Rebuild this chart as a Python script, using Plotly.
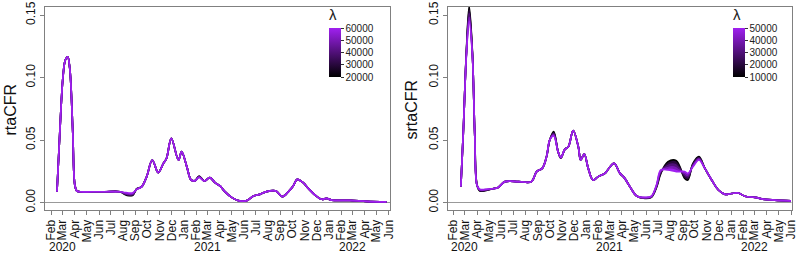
import plotly.graph_objects as go

# ---------------- data: rtaCFR (left panel) ----------------
rta_lambdas = [20000, 30000, 40000, 50000, 60000]
rta_dates = ["2020-02-16", "2020-02-23", "2020-03-02", "2020-03-08", "2020-03-14", "2020-03-19",
             "2020-03-22", "2020-03-27", "2020-04-01", "2020-04-06", "2020-04-14", "2020-05-15",
             "2020-06-15", "2020-07-24", "2020-08-05", "2020-08-15", "2020-08-25", "2020-09-04",
             "2020-09-16", "2020-09-29", "2020-10-13", "2020-10-28", "2020-11-10", "2020-11-18",
             "2020-11-30", "2020-12-18", "2020-12-26", "2021-01-08", "2021-01-19", "2021-01-29",
             "2021-02-08", "2021-02-21", "2021-03-07", "2021-03-20", "2021-04-02", "2021-04-14",
             "2021-05-01", "2021-05-18", "2021-06-08", "2021-06-25", "2021-07-11", "2021-07-28",
             "2021-08-14", "2021-08-22", "2021-09-06", "2021-09-21", "2021-10-03", "2021-10-13",
             "2021-10-28", "2021-11-10", "2021-11-27", "2021-12-14", "2021-12-26", "2022-01-08",
             "2022-02-23", "2022-04-06", "2022-05-26"]
rta_lam60000 = [0.0086, 0.055, 0.100, 0.114, 0.1166, 0.108,
                0.095, 0.055, 0.014, 0.0092, 0.0086, 0.0086,
                0.0086, 0.0086, 0.0080, 0.0076, 0.0077, 0.0105,
                0.0125, 0.0207, 0.0340, 0.0239, 0.0313, 0.0353,
                0.0513, 0.0340, 0.0407, 0.0287, 0.0180, 0.0175,
                0.0201, 0.0172, 0.0199, 0.0159, 0.0132, 0.0087,
                0.0041, 0.0015, 0.0015, 0.0052, 0.0065, 0.0087,
                0.0095, 0.0090, 0.0047, 0.0087, 0.0132, 0.0185,
                0.0159, 0.0113, 0.0060, 0.0026, 0.0033, 0.0019,
                0.0017, 0.0009, 0.0005]
rta_diff_dates = ["2020-08-05", "2020-08-15", "2020-08-25", "2020-09-04", "2021-02-08"]
rta_lam20000_diff = [0.0065, 0.0055, 0.0058, 0.0110, 0.0212]
rta_lam30000_diff = [0.0068, 0.0058, 0.0061, 0.0109, 0.0209]
rta_lam40000_diff = [0.0071, 0.0062, 0.0065, 0.0108, 0.0206]
rta_lam50000_diff = [0.0075, 0.0068, 0.0070, 0.0107, 0.0203]

# ---------------- data: srtaCFR (right panel) ----------------
srta_lambdas = [10000, 20000, 30000, 40000, 50000]
srta_dates = ["2020-02-20", "2020-02-26", "2020-03-05", "2020-03-12", "2020-03-20", "2020-03-26",
              "2020-04-01", "2020-04-08", "2020-04-22", "2020-05-10", "2020-05-24", "2020-06-10",
              "2020-07-15", "2020-08-16", "2020-08-29", "2020-09-12", "2020-09-23", "2020-10-01",
              "2020-10-11", "2020-10-22", "2020-10-29", "2020-11-08", "2020-11-17", "2020-11-29",
              "2020-12-12", "2020-12-18", "2020-12-27", "2021-01-06", "2021-01-18", "2021-01-31",
              "2021-02-17", "2021-02-24", "2021-03-12", "2021-03-27", "2021-04-08", "2021-04-21",
              "2021-05-08", "2021-05-29", "2021-06-14", "2021-06-27", "2021-07-08", "2021-07-26",
              "2021-08-16", "2021-09-06", "2021-09-14", "2021-09-27", "2021-10-12", "2021-10-27",
              "2021-11-13", "2021-11-30", "2021-12-17", "2022-01-02", "2022-01-19", "2022-02-05",
              "2022-03-02", "2022-03-27", "2022-04-21", "2022-06-01"]
srta_lam50000 = [0.0127, 0.055, 0.118, 0.145, 0.118, 0.055,
                 0.0135, 0.0105, 0.0105, 0.0110, 0.0120, 0.0167,
                 0.0167, 0.0167, 0.0247, 0.0273, 0.0367, 0.0500,
                 0.0532, 0.0407, 0.0361, 0.0425, 0.0447, 0.0575,
                 0.0447, 0.0340, 0.0388, 0.0273, 0.0180, 0.0207,
                 0.0233, 0.0260, 0.0313, 0.0233, 0.0193, 0.0127,
                 0.0052, 0.0041, 0.0050, 0.0140, 0.0260, 0.0260,
                 0.0247, 0.0247, 0.0233, 0.0287, 0.0340, 0.0273,
                 0.0180, 0.0100, 0.0065, 0.0072, 0.0076, 0.0050,
                 0.0041, 0.0025, 0.0019, 0.0013]
srta_diff_dates = ["2020-03-05", "2020-03-12", "2020-03-20", "2020-04-08", "2020-04-22",
                   "2020-10-11", "2020-10-29", "2021-05-29", "2021-06-14", "2021-06-27",
                   "2021-07-08", "2021-07-26", "2021-08-16", "2021-09-06", "2021-09-14",
                   "2021-09-27", "2021-10-12"]
srta_lam10000_diff = [0.1210, 0.1570, 0.1210, 0.0092, 0.0095, 0.0567, 0.0355, 0.0033, 0.0042,
                      0.0120, 0.0233, 0.0327, 0.0335, 0.0193, 0.0180, 0.0313, 0.0367]
srta_lam20000_diff = [0.1203, 0.1540, 0.1203, 0.0095, 0.0098, 0.0558, 0.0356, 0.0035, 0.0044,
                      0.0125, 0.0240, 0.0310, 0.0313, 0.0206, 0.0193, 0.0307, 0.0360]
srta_lam30000_diff = [0.1195, 0.1513, 0.1195, 0.0098, 0.0100, 0.0550, 0.0358, 0.0037, 0.0046,
                      0.0130, 0.0247, 0.0293, 0.0291, 0.0220, 0.0207, 0.0300, 0.0353]
srta_lam40000_diff = [0.1188, 0.1482, 0.1188, 0.0102, 0.0103, 0.0541, 0.0359, 0.0039, 0.0048,
                      0.0135, 0.0253, 0.0277, 0.0269, 0.0233, 0.0220, 0.0293, 0.0347]

# ---------------- axis labels ----------------
month_tick_dates = ["2020-02-01", "2020-03-01", "2020-04-01", "2020-05-01", "2020-06-01", "2020-07-01",
                    "2020-08-01", "2020-09-01", "2020-10-01", "2020-11-01", "2020-12-01", "2021-01-01",
                    "2021-02-01", "2021-03-01", "2021-04-01", "2021-05-01", "2021-06-01", "2021-07-01",
                    "2021-08-01", "2021-09-01", "2021-10-01", "2021-11-01", "2021-12-01", "2022-01-01",
                    "2022-02-01", "2022-03-01", "2022-04-01", "2022-05-01", "2022-06-01"]
month_tick_labels = ["Feb", "Mar", "Apr", "May", "Jun", "Jul", "Aug", "Sep", "Oct", "Nov", "Dec", "Jan",
                     "Feb", "Mar", "Apr", "May", "Jun", "Jul", "Aug", "Sep", "Oct", "Nov", "Dec", "Jan",
                     "Feb", "Mar", "Apr", "May", "Jun"]
year_labels = ["2020", "2021", "2022"]
year_positions = ["2020-03-01", "2021-03-01", "2022-03-01"]
y_tick_vals = [0.0, 0.05, 0.10, 0.15]
y_tick_labels = ["0.00", "0.05", "0.10", "0.15"]


def build_curve(base_dates, base_vals, diff_dates, diff_vals):
    lookup = dict(zip(diff_dates, diff_vals))
    return [lookup.get(d, v) for d, v in zip(base_dates, base_vals)]


def lam_color(t):
    # black -> purple (#A020F0)
    r = int(round(0xA0 * t)); g = int(round(0x20 * t)); b = int(round(0xF0 * t))
    return f"rgb({r},{g},{b})"


FONT = "Liberation Sans, Arial, sans-serif"
AX = "#808080"
fig = go.Figure()

panels = [
    dict(xa="x", ya="y", lambdas=rta_lambdas, dates=rta_dates,
         curves=[build_curve(rta_dates, rta_lam60000, rta_diff_dates, d) for d in
                 [rta_lam20000_diff, rta_lam30000_diff, rta_lam40000_diff, rta_lam50000_diff]] + [rta_lam60000]),
    dict(xa="x2", ya="y2", lambdas=srta_lambdas, dates=srta_dates,
         curves=[build_curve(srta_dates, srta_lam50000, srta_diff_dates, d) for d in
                 [srta_lam10000_diff, srta_lam20000_diff, srta_lam30000_diff, srta_lam40000_diff]] + [srta_lam50000]),
]

for p in panels:
    n = len(p["lambdas"])
    for i, (lam, vals) in enumerate(zip(p["lambdas"], p["curves"])):
        t = i / (n - 1)
        c = lam_color(t)
        fig.add_trace(go.Scatter(
            x=p["dates"], y=vals, mode="lines", xaxis=p["xa"], yaxis=p["ya"],
            line=dict(color=c, width=1.7, shape="spline", smoothing=1.0),
            fill="tonexty" if i > 0 else None, fillcolor=c if i > 0 else None,
            showlegend=False, hoverinfo="skip"))

# colorbars (dummy invisible traces)
cbs = [
    dict(xa="x", ya="y", lams=rta_lambdas, x=329 / 800, d=rta_dates[0], v=rta_lam60000[0]),
    dict(xa="x2", ya="y2", lams=srta_lambdas, x=733 / 800, d=srta_dates[0], v=srta_lam50000[0]),
]
for cb in cbs:
    fig.add_trace(go.Scatter(
        x=[cb["d"]], y=[cb["v"]], mode="markers", xaxis=cb["xa"], yaxis=cb["ya"],
        marker=dict(size=1, opacity=0, color=[cb["lams"][0]], cmin=cb["lams"][0], cmax=cb["lams"][-1],
                    colorscale=[[0, "black"], [1, "#A020F0"]], showscale=True,
                    colorbar=dict(x=cb["x"], xanchor="left", y=1 - 77 / 253, yanchor="bottom",
                                  len=71, lenmode="pixels", thickness=12, thicknessmode="pixels",
                                  xpad=0, ypad=0, outlinewidth=0, ticks="outside", ticklen=3,
                                  tickcolor="#333", tickvals=cb["lams"], ticktext=[str(l) for l in cb["lams"]],
                                  tickfont=dict(family=FONT, size=10, color="#222"),
                                  title=dict(text="λ", side="top", font=dict(family=FONT, size=15, color="#222")))),
        showlegend=False, hoverinfo="skip"))

ydom = [1 - 210 / 253, 1 - 7 / 253]
common_x = dict(type="date", tickmode="array", tickvals=month_tick_dates, ticktext=month_tick_labels,
                tickangle=-90, ticks="outside", ticklen=4, tickcolor=AX, showline=True, linecolor=AX,
                mirror=True, showgrid=False, zeroline=False, automargin=False,
                tickfont=dict(family=FONT, size=12, color="#111"))
common_y = dict(range=[-0.006, 0.1564], tickmode="array", tickvals=y_tick_vals, ticktext=y_tick_labels,
                tickangle=-90, ticks="outside", ticklen=4, tickcolor=AX, showline=True, linecolor=AX,
                mirror=True, showgrid=False, zeroline=False, automargin=False, domain=ydom,
                tickfont=dict(family=FONT, size=12, color="#111"))

fig.update_layout(
    width=800, height=253, margin=dict(l=0, r=0, t=0, b=0),
    paper_bgcolor="white", plot_bgcolor="white",
    xaxis=dict(common_x, domain=[44.5 / 800, 390 / 800], range=["2020-01-15 14:00", "2022-06-03 21:00"], anchor="y"),
    yaxis=dict(common_y, anchor="x"),
    xaxis2=dict(common_x, domain=[448 / 800, 791.5 / 800], range=["2020-01-18 15:00", "2022-06-02 06:00"], anchor="y2"),
    yaxis2=dict(common_y, anchor="x2"),
)

# zero reference lines
for xr, yr in [("x domain", "y"), ("x2 domain", "y2")]:
    fig.add_shape(type="line", xref=xr, yref=yr, x0=0, x1=1, y0=0, y1=0,
                  line=dict(color="#999999", width=1), layer="below")

ann = []
for xr in ["x", "x2"]:
    for lab, pos in zip(year_labels, year_positions):
        ann.append(dict(x=pos, y=1 - 247 / 253, xref=xr, yref="paper", text=lab, showarrow=False,
                        xanchor="center", yanchor="middle", font=dict(family=FONT, size=12, color="#111")))
ann.append(dict(x=10.5 / 800, y=1 - 110 / 253, xref="paper", yref="paper", text="rtaCFR", textangle=-90,
                xanchor="center", yanchor="middle",
                showarrow=False, font=dict(family=FONT, size=16, color="#111")))
ann.append(dict(x=411.5 / 800, y=1 - 110 / 253, xref="paper", yref="paper", text="srtaCFR", textangle=-90,
                xanchor="center", yanchor="middle",
                showarrow=False, font=dict(family=FONT, size=16, color="#111")))
fig.update_layout(annotations=ann)

fig.write_html("out.html", config={"displayModeBar": False},
               post_script="document.body.style.margin='0';document.body.style.overflow='hidden';")
